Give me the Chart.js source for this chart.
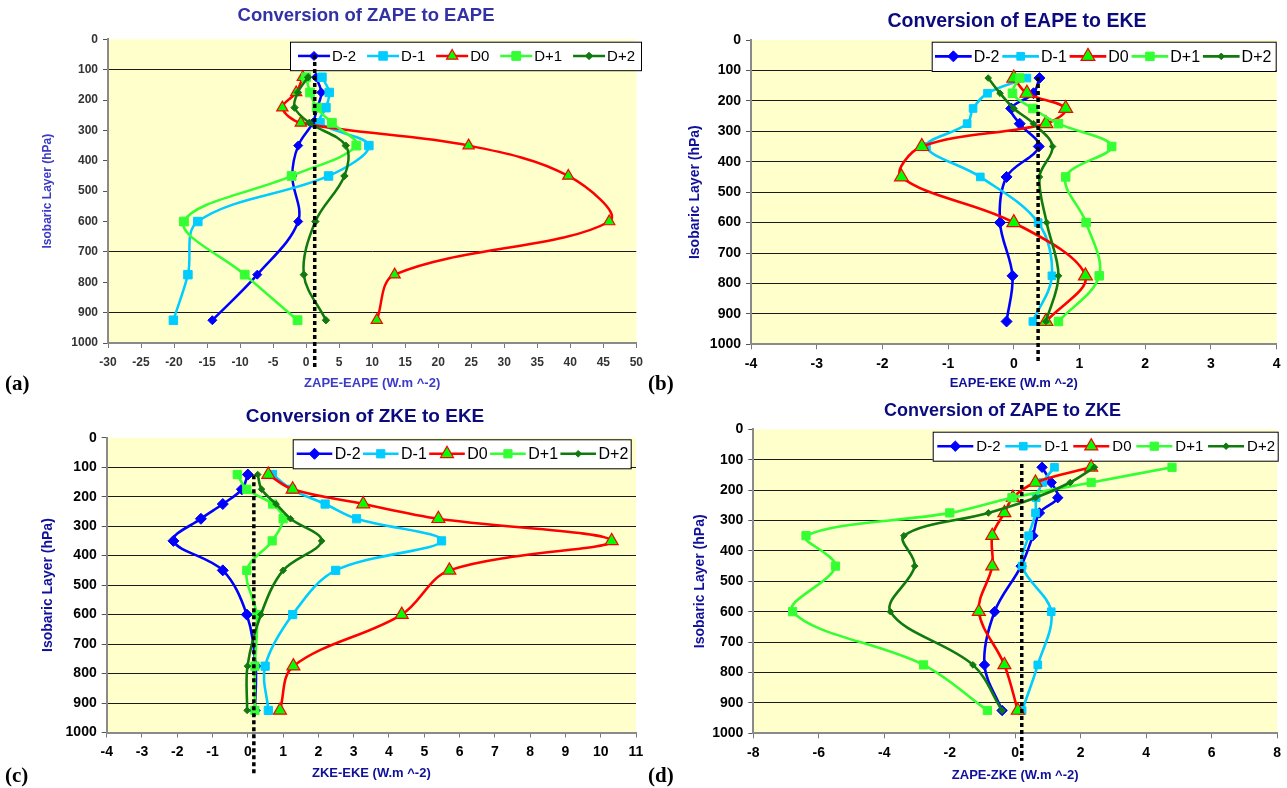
<!DOCTYPE html>
<html>
<head>
<meta charset="utf-8">
<script src="https://cdn.jsdelivr.net/npm/chart.js@4.4.1/dist/chart.umd.min.js"></script>
<style>
  body { margin: 0; background: #fff; width: 1287px; height: 788px; position: relative; overflow: hidden; }
  canvas { position: absolute; }
  .tag { position: absolute; font: bold 21px "Liberation Serif", serif; line-height: 1; color: #000; }
</style>
</head>
<body>
<canvas id="pa" width="650" height="395" style="left:0;top:0"></canvas>
<canvas id="pb" width="642" height="395" style="left:645px;top:0"></canvas>
<canvas id="pc" width="650" height="393" style="left:0;top:395px"></canvas>
<canvas id="pd" width="642" height="393" style="left:645px;top:395px"></canvas>
<div class="tag" style="left:5px;top:373px">(a)</div>
<div class="tag" style="left:648px;top:373px">(b)</div>
<div class="tag" style="left:5px;top:765px">(c)</div>
<div class="tag" style="left:648px;top:765px">(d)</div>
<script>
// isobaric levels (hPa) of the plotted points
const levels = [125, 175, 225, 275, 350, 450, 600, 775, 925];
const seriesNames = ["D-2", "D-1", "D0", "D+1", "D+2"];

// (a) ZAPE -> EAPE
const aDm2 = [1.5, 2.3, 1.7, 1.0, -1.2, -2.1, -1.2, -7.4, -14.2];
const aDm1 = [2.4, 3.5, 3.0, 2.1, 9.5, 3.4, -16.4, -17.9, -20.1];
const aD0 = [-0.5, -1.5, -3.6, -0.8, 24.6, 39.7, 45.9, 13.4, 10.7];
const aDp1 = [0.0, 0.6, 1.6, 3.9, 7.6, -2.2, -18.5, -9.3, -1.3];
const aDp2 = [0.3, -1.25, -1.75, 0.5, 6.0, 5.8, 1.4, -0.35, 3.0];

// (b) EAPE -> EKE
const bDm2 = [0.39, 0.30, -0.04, 0.09, 0.38, -0.11, -0.21, -0.02, -0.11];
const bDm1 = [0.20, -0.40, -0.62, -0.71, -1.33, -0.51, 0.37, 0.58, 0.29];
const bD0 = [0.0, 0.20, 0.79, 0.49, -1.40, -1.71, 0.0, 1.09, 0.49];
const bDp1 = [0.09, -0.02, 0.29, 0.68, 1.49, 0.79, 1.10, 1.30, 0.68];
const bDp2 = [-0.39, -0.21, 0.0, 0.30, 0.59, 0.39, 0.50, 0.68, 0.49];

// (c) ZKE -> EKE
const cDm2 = [0.0, -0.17, -0.71, -1.33, -2.11, -0.71, -0.03, 0.22, 0.2];
const cDm1 = [0.70, 1.24, 2.19, 3.08, 5.49, 2.49, 1.27, 0.49, 0.58];
const cD0 = [0.58, 1.27, 3.27, 5.40, 10.31, 5.71, 4.36, 1.29, 0.91];
const cDp1 = [-0.30, -0.03, 0.70, 1.00, 0.69, -0.03, 0.25, 0.20, 0.20];
const cDp2 = [0.28, 0.39, 0.80, 1.21, 2.09, 1.00, 0.37, -0.01, -0.02];

// (d) ZAPE -> ZKE
const dDm2 = [0.82, 1.10, 1.30, 0.74, 0.54, 0.18, -0.63, -0.94, -0.40];
const dDm1 = [1.20, 0.84, 0.64, 0.62, 0.41, 0.21, 1.10, 0.69, 0.21];
const dD0 = [2.32, 0.62, -0.07, -0.33, -0.70, -0.70, -1.11, -0.33, 0.08];
const dDp1 = [4.79, 2.32, -0.10, -2.00, -6.39, -5.49, -6.80, -2.80, -0.85];
const dDp2 = [2.42, 1.68, 0.62, -0.82, -3.40, -3.07, -3.81, -1.29, -0.40];

// dotted reference line of each panel: x value, top and bottom (hPa)
const refX = [1.3, 0.37, 0.17, 0.2];
const refTop = [52, 122, 127, 114];
const refBottom = [1080, 1060, 1138, 1090];

const SANS = "'Liberation Sans', Arial, sans-serif";

// fills the plot area with the pale yellow
const plotBg = {
  id: "plotBg",
  beforeDraw(chart) {
    const { ctx, chartArea: a } = chart;
    ctx.save();
    ctx.fillStyle = "#ffffcc";
    ctx.fillRect(a.left, a.top, a.right - a.left, a.bottom - a.top);
    ctx.restore();
  }
};

// legend box drawn inside the plot, like the Excel one
const boxLegend = {
  id: "boxLegend",
  beforeDatasetsDraw(chart, args, o) {
    const ctx = chart.ctx;
    const sets = chart.data.datasets.filter((d) => d.label);
    ctx.save();
    ctx.font = o.font;
    const widths = sets.map((d) => ctx.measureText(d.label).width);
    const used = widths.reduce((s, w) => s + w + o.sample + o.gap, 0);
    const spacing = (o.w - o.padL - o.padR - used) / (sets.length - 1);
    ctx.fillStyle = "#fff";
    ctx.fillRect(o.x, o.y, o.w, o.h);
    ctx.strokeStyle = "#000";
    ctx.lineWidth = 1;
    ctx.strokeRect(o.x + 0.5, o.y + 0.5, o.w, o.h);
    const cy = o.y + o.h / 2;
    let x = o.x + o.padL;
    sets.forEach((d, i) => {
      ctx.strokeStyle = d.borderColor;
      ctx.lineWidth = d.borderWidth;
      ctx.beginPath();
      ctx.moveTo(x, cy);
      ctx.lineTo(x + o.sample, cy);
      ctx.stroke();
      ctx.fillStyle = d.pointBackgroundColor;
      ctx.strokeStyle = d.pointBorderColor;
      ctx.lineWidth = d.pointBorderWidth;
      Chart.helpers.drawPoint(ctx, { pointStyle: d.pointStyle, radius: d.pointRadius, borderWidth: d.pointBorderWidth, rotation: 0 }, x + o.sample / 2, cy);
      ctx.fillStyle = "#000";
      ctx.textBaseline = "middle";
      ctx.textAlign = "left";
      ctx.fillText(d.label, x + o.sample + o.gap, cy + 1);
      x += o.sample + o.gap + widths[i] + spacing;
    });
    ctx.restore();
  }
};

// chart title at a free position
const freeTitle = {
  id: "freeTitle",
  afterDraw(chart, args, o) {
    const ctx = chart.ctx;
    ctx.save();
    ctx.font = o.font;
    ctx.fillStyle = o.color;
    ctx.textAlign = "center";
    ctx.textBaseline = "middle";
    ctx.fillText(o.text, o.x, o.y);
    ctx.restore();
  }
};

const looks = [
  { color: "#0000ff", fill: "#0000ff", edge: "#0000ff", style: "rectRot" },
  { color: "#00ccff", fill: "#00ccff", edge: "#00ccff", style: "rect" },
  { color: "#ff0000", fill: "#00ff00", edge: "#ff0000", style: "triangle" },
  { color: "#33ff33", fill: "#33ff33", edge: "#33ff33", style: "rect" },
  { color: "#107a10", fill: "#107a10", edge: "#107a10", style: "rectRot" }
];

const panels = [
  {
    id: "pa", w: 650, h: 395, plot: { l: 108, t: 39.3, r: 638, b: 343 },
    title: "Conversion of ZAPE to EAPE", titleX: 366, titleY: 16, titleSize: 18.5, titleColor: "#3232a6",
    xTitle: "ZAPE-EAPE (W.m ^-2)", axisColor: "#3b3bc8", yTitleX: 48, yTitleSize: 12, xTitleY: 383,
    xMin: -30, xMax: 50, xStep: 5, tickFont: 12, tickColor: "#333", xTickPad: 7,
    gridAt: [100, 700, 900], radii: [4.5, 6, 6.5, 6.2, 3.7], lineW: 2.5,
    series: [aDm2, aDm1, aD0, aDp1, aDp2],
    legend: { x: 290, y: 41.7, w: 351, h: 28.5, padL: 8, padR: 6, sample: 32, gap: 2, font: "15px " + SANS }
  },
  {
    id: "pb", w: 642, h: 395, plot: { l: 106, t: 40, r: 631.6, b: 344.3 },
    title: "Conversion of EAPE to EKE", titleX: 372, titleY: 22, titleSize: 19.5, titleColor: "#0b0b7d",
    xTitle: "EAPE-EKE (W.m ^-2)", axisColor: "#10109a", yTitleX: 50, yTitleSize: 14, xTitleY: 383,
    xMin: -4, xMax: 4, xStep: 1, tickFont: 14, tickColor: "#000", xTickPad: 6,
    gridAt: [100, 200, 300, 400, 500, 600, 700, 800, 900], radii: [5.5, 5.4, 8, 6, 3.3], lineW: 2.6,
    series: [bDm2, bDm1, bD0, bDp1, bDp2],
    legend: { x: 286.7, y: 41.7, w: 344, h: 29.3, padL: 3.3, padR: 4.3, sample: 36.7, gap: 2, font: "16px " + SANS }
  },
  {
    id: "pc", w: 650, h: 393, plot: { l: 106.7, t: 42.7, r: 636, b: 337.5 },
    title: "Conversion of ZKE to EKE", titleX: 365, titleY: 22, titleSize: 19, titleColor: "#0b0b7d",
    xTitle: "ZKE-EKE (W.m ^-2)", axisColor: "#10109a", yTitleX: 48, yTitleSize: 14, xTitleY: 378,
    xMin: -4, xMax: 11, xStep: 1, tickFont: 14, tickColor: "#000", xTickPad: 6,
    gridAt: [100, 200, 300, 400, 500, 600, 700, 800, 900], radii: [5.5, 5.8, 7.5, 5.8, 3.3], lineW: 2.6,
    series: [cDm2, cDm1, cD0, cDp1, cDp2],
    legend: { x: 292.7, y: 44.3, w: 338, h: 29, padL: 4, padR: 2.4, sample: 35.6, gap: 2.5, font: "16px " + SANS }
  },
  {
    id: "pd", w: 642, h: 393, plot: { l: 108.3, t: 34.3, r: 633, b: 338.3 },
    title: "Conversion of ZAPE to ZKE", titleX: 357.5, titleY: 16, titleSize: 18, titleColor: "#0b0b7d",
    xTitle: "ZAPE-ZKE (W.m ^-2)", axisColor: "#10109a", yTitleX: 55, yTitleSize: 14, xTitleY: 380,
    xMin: -8, xMax: 8, xStep: 2, tickFont: 14, tickColor: "#000", xTickPad: 6,
    gridAt: [100, 200, 300, 400, 500, 600, 700, 800, 900], radii: [5.2, 5.4, 7.5, 5.8, 3.3], lineW: 2.6,
    series: [dDm2, dDm1, dD0, dDp1, dDp2],
    legend: { x: 287.7, y: 36.7, w: 345, h: 29, padL: 4.6, padR: 2.7, sample: 36, gap: 3, font: "15px " + SANS }
  }
];

panels.forEach((p, k) => {
  const datasets = [{
    data: [{ x: refX[k], y: refTop[k] }, { x: refX[k], y: refBottom[k] }],
    showLine: true, borderColor: "#000", borderWidth: 3.5, borderDash: [4, 3],
    borderCapStyle: "butt", pointRadius: 0, tension: 0, clip: false, order: 0
  }];
  p.series.forEach((vals, i) => {
    const lk = looks[i];
    datasets.push({
      label: seriesNames[i],
      data: vals.map((v, j) => ({ x: v, y: levels[j] })),
      showLine: true, tension: 0.35,
      borderColor: lk.color, borderWidth: p.lineW,
      pointStyle: lk.style, pointRadius: p.radii[i],
      pointBackgroundColor: lk.fill, pointBorderColor: lk.edge,
      pointBorderWidth: i === 2 ? 1.2 : 1,
      order: 5 - i
    });
  });

  const tickLen = 5;
  const xTitleLH = 13 * 1.2;
  const yTitleLH = p.yTitleSize * 1.2;
  const plain = (v) => String(v);

  new Chart(document.getElementById(p.id), {
    type: "scatter",
    data: { datasets },
    plugins: [plotBg, boxLegend, freeTitle],
    options: {
      responsive: false,
      animation: false,
      events: [],
      layout: { padding: { left: 0, top: p.plot.t, right: p.w - p.plot.r, bottom: 0 } },
      plugins: {
        legend: { display: false },
        tooltip: { enabled: false },
        title: { display: false },
        boxLegend: p.legend,
        freeTitle: { text: p.title, x: p.titleX, y: p.titleY, color: p.titleColor, font: "bold " + p.titleSize + "px " + SANS }
      },
      scales: {
        x: {
          type: "linear", min: p.xMin, max: p.xMax,
          ticks: { stepSize: p.xStep, autoSkip: false, maxRotation: 0, color: p.tickColor, padding: p.xTickPad,
                   callback: plain, font: { family: SANS, size: p.tickFont, weight: "bold" } },
          grid: { drawOnChartArea: false, drawTicks: true, tickLength: tickLen, tickColor: "#777" },
          border: { color: "#8a8a8a", width: 2 },
          title: { display: true, text: p.xTitle, color: p.axisColor,
                   font: { family: SANS, size: 13, weight: "bold" },
                   padding: { top: 0, bottom: p.h - p.xTitleY - xTitleLH / 2 } },
          afterFit: (s) => { s.height = p.h - p.plot.b; }
        },
        y: {
          type: "linear", reverse: true, min: 0, max: 1000,
          ticks: { stepSize: 100, autoSkip: false, color: p.tickColor, padding: 5,
                   callback: plain, font: { family: SANS, size: p.tickFont, weight: "bold" } },
          grid: {
            color: (c) => (p.gridAt.includes(c.tick.value) ? "#1a1a1a" : "rgba(0,0,0,0)"),
            lineWidth: 1, tickLength: tickLen, tickColor: "#555"
          },
          border: { color: "#8a8a8a", width: 2 },
          title: { display: true, text: "Isobaric Layer (hPa)", color: p.axisColor,
                   font: { family: SANS, size: p.yTitleSize, weight: "bold" },
                   padding: { top: p.yTitleX - yTitleLH / 2, bottom: 0 } },
          afterFit: (s) => { s.width = p.plot.l; }
        }
      }
    }
  });
});
</script>
</body>
</html>
